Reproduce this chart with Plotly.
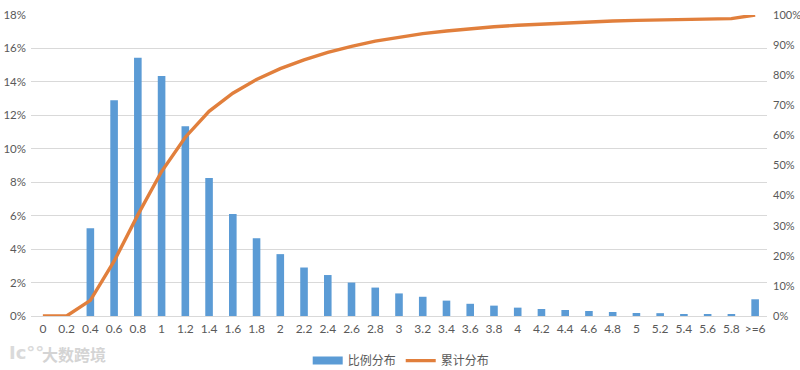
import plotly.graph_objects as go

categories = ["0","0.2","0.4","0.6","0.8","1","1.2","1.4","1.6","1.8","2","2.2","2.4","2.6","2.8","3",
              "3.2","3.4","3.6","3.8","4","4.2","4.4","4.6","4.8","5","5.2","5.4","5.6","5.8",">=6"]
share = [0,0,5.25,12.9,15.45,14.35,11.35,8.25,6.1,4.65,3.7,2.9,2.45,2.0,1.7,1.35,
         1.15,0.92,0.73,0.62,0.5,0.42,0.36,0.3,0.24,0.18,0.17,0.12,0.12,0.11,1.0]
cumulative = [0,0,5.2,18.2,33.6,48,59.4,68,74,78.6,82.2,85.1,87.6,89.6,91.3,92.6,
              93.8,94.7,95.5,96.1,96.6,97.0,97.4,97.7,98.0,98.2,98.4,98.5,98.7,98.8,100]
left_ticks = list(range(0, 19, 2))
right_ticks = list(range(0, 101, 10))

FONT = "Lato, 'Noto Sans CJK SC', sans-serif"
GREY = "#595959"

fig = go.Figure()
fig.add_bar(x=categories, y=share, name="比例分布", marker=dict(color="#5B9BD5", line_width=0),
            yaxis="y", showlegend=False)
# legend-only entry: gives the wide flat swatch of the reference
fig.add_scatter(x=[None], y=[None], name="比例分布", mode="lines", line=dict(color="#5B9BD5", width=8), yaxis="y")
fig.add_scatter(x=categories, y=cumulative, name="累计分布", mode="lines",
                line=dict(color="#E17F3C", width=3.4), yaxis="y2")

fig.update_layout(
    width=800, height=370, autosize=False,
    margin=dict(l=31, r=33, t=15, b=54, autoexpand=False),
    paper_bgcolor="white", plot_bgcolor="white",
    font=dict(family=FONT, size=12, color=GREY),
    bargap=0.68,
    xaxis=dict(type="category", categoryorder="array", categoryarray=categories, tickangle=0,
               tickmode="array", tickvals=categories, ticktext=categories, automargin=False,
               showgrid=False, showline=True, linecolor="#D9D9D9", linewidth=1, ticks="",
               ticklen=0, ticklabelstandoff=2, tickfont=dict(size=12, color=GREY)),
    yaxis=dict(range=[0, 18], tickvals=left_ticks, ticktext=[f"{v}%" for v in left_ticks], automargin=False,
               showgrid=True, gridcolor="#D9D9D9", gridwidth=1, zeroline=False, ticks="",
               ticklabelstandoff=4, tickfont=dict(size=11.5, color=GREY)),
    yaxis2=dict(range=[0, 100], overlaying="y", side="right", tickvals=right_ticks, automargin=False,
                ticktext=[f"{v}%" for v in right_ticks], showgrid=False, zeroline=False, ticks="",
                ticklabelstandoff=5, tickfont=dict(size=11, color=GREY)),
    legend=dict(orientation="h", x=0.503, xanchor="center", y=-0.1, yanchor="top",
                font=dict(size=12, color=GREY, family=FONT), itemwidth=30, traceorder="normal"),
    annotations=[
        dict(text="<b>大数跨境</b>", xref="paper", yref="paper", x=0.012, xanchor="left",
             y=-0.08, yanchor="top", showarrow=False,
             font=dict(size=16, color="#D4D4D4", family="'Noto Sans CJK SC'")),
        dict(text="<b>Ic°°</b>", xref="paper", yref="paper", x=-0.032, xanchor="left",
             y=-0.08, yanchor="top", showarrow=False,
             font=dict(size=18, color="#DADADA", family="'DejaVu Sans'")),
    ],
)
fig.write_html("out.html", config=dict(displayModeBar=False),
               post_script="document.body.style.margin='0';document.body.style.overflow='hidden';")
